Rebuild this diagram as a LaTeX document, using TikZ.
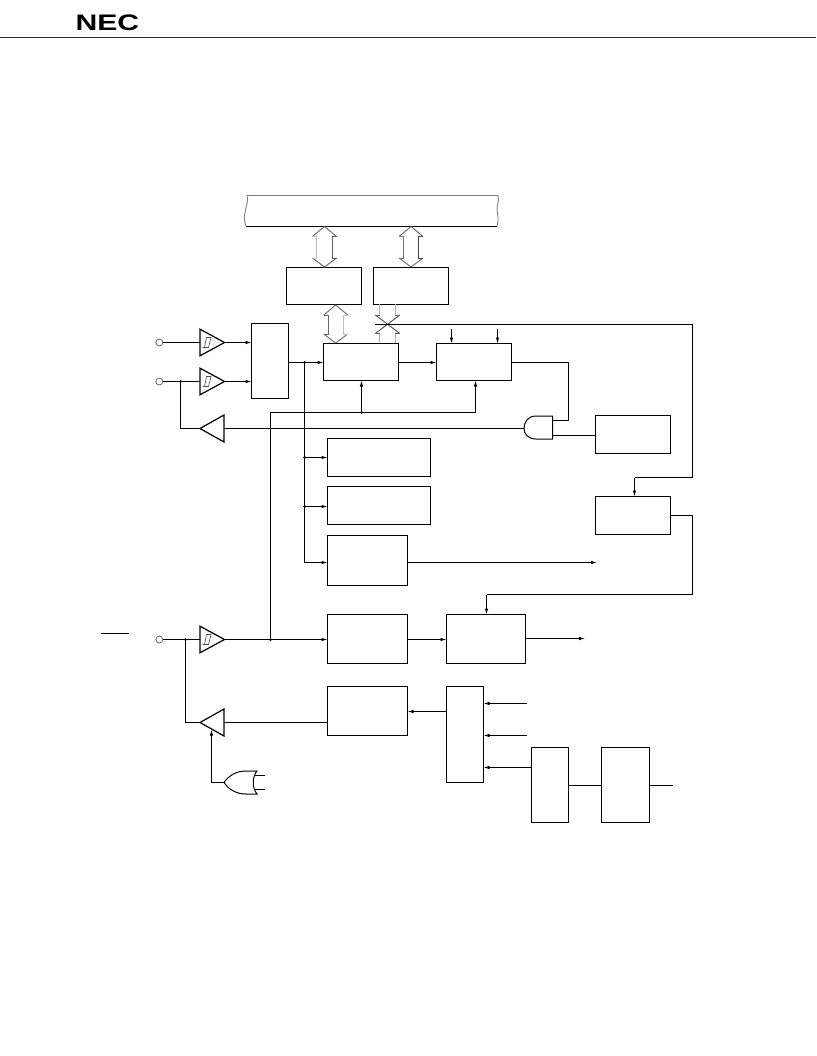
\documentclass[tikz,border=0pt]{standalone}
\usepackage{fontspec}
\setmainfont{Liberation Sans}
\usetikzlibrary{arrows.meta,calc}
\tikzset{
  line/.style={line width=1pt,black},
  arr/.style={line,-{Latex[length=6pt,width=3.6pt]}},
  box/.style={draw,line width=1pt,anchor=north west,inner sep=0pt,outer sep=0pt},
  pin/.style={circle,draw=black!60,line width=0.8pt,minimum size=7pt,inner sep=0pt,outer sep=0pt},
  dot/.style={circle,fill=black,inner sep=0pt,minimum size=3pt},
  tri/.style={line width=1.2pt,line join=miter},
  hyst/.style={draw=black!70,line width=0.6pt},
}
% box by corner pixels: name, x1, y1, x2, y2
\newcommand\bx[5]{\node[box,minimum width={(#4-#2)*1pt},minimum height={(#5-#3)*1pt}] (#1) at (#2+0.5,#3+0.5) {};}
% right-pointing buffer with hysteresis mark
\newcommand\bufr[3]{%
  \coordinate (#1in) at (#2,#3);\coordinate (#1out) at (#2+24.5,#3);
  \draw[tri] (#2,#3-13.3) -- (#2+24.5,#3) -- (#2,#3+13.3) -- cycle;
  \draw[hyst] (#2+2.5,#3+5) -- (#2+8.5,#3+5) -- (#2+11,#3-5) -- (#2+6.5,#3-5) -- (#2+4.5,#3+5);}
% left-pointing buffer
\newcommand\bufl[3]{%
  \coordinate (#1out) at (#2,#3);\coordinate (#1in) at (#2+24,#3);
  \draw[tri] (#2,#3) -- (#2+24,#3-13.5) -- (#2+24,#3+13.5) -- cycle;}
% hollow double arrow: top point, bottom point, half head, half shaft, left colour, right colour
\newcommand\dbl[6]{%
  \draw[line width=0.9pt,black!60] let \p1=(#1),\p2=(#2) in
    (\x1-#3pt,\y1-10pt) -- (\x1,\y1) -- (\x1+#3pt,\y1-10pt)
    (\x2-#3pt,\y2+9pt) -- (\x2,\y2) -- (\x2+#3pt,\y2+9pt);
  \draw[line width=0.9pt,#5] let \p1=(#1),\p2=(#2) in
    (\x1-#3pt,\y1-10pt) -- (\x1-#4pt,\y1-10pt) -- (\x1-#4pt,\y2+9pt) -- (\x1-#3pt,\y2+9pt);
  \draw[line width=0.9pt,#6] let \p1=(#1),\p2=(#2) in
    (\x1+#3pt,\y1-10pt) -- (\x1+#4pt,\y1-10pt) -- (\x1+#4pt,\y2+9pt) -- (\x1+#3pt,\y2+9pt);}
\begin{document}
\begin{tikzpicture}[x=1pt,y=-1pt]
\useasboundingbox (0,0) rectangle (816,1056);
% header
\node[inner sep=0pt,anchor=west] (logo) at (75.3,22.4) {\scalebox{1.34}[1]{\fontsize{22.5pt}{22.5pt}\selectfont\bfseries NEC}};
\coordinate (ruleL) at (0,37.5);\coordinate (ruleR) at (816,37.5);
\draw[line width=1pt,black!85] (ruleL) -- (ruleR);
% internal bus
\draw[line width=0.9pt,black!50] (246,226) .. controls (243,218) and (245,214) .. (245.5,210) .. controls (246,206) and (249,201) .. (247,195.5) -- (498,195.5) .. controls (499.5,201) and (497,205) .. (497,209) .. controls (497,214) and (499.5,219) .. (497,226);
\coordinate (busL) at (324.5,226.5);\coordinate (busR) at (411,226.5);
\draw[line width=1pt] (246,226.5) -- (497,226.5);
% blocks
\bx{regA}{286}{267}{361}{304}
\bx{regB}{373}{267}{448}{304}
\bx{mux}{251}{323}{288}{398}
\bx{sr}{323}{343}{398}{380}
\bx{outl}{436}{343}{511}{380}
\bx{ctl}{595}{415}{670}{453}
\bx{cnt}{595}{496}{670}{534}
\bx{dbox}{327}{438}{430}{476}
\bx{ebox}{327}{486}{430}{524}
\bx{fbox}{327}{535}{407}{585}
\bx{gbox}{327}{614}{407}{663}
\bx{hbox}{446}{614}{525}{663}
\bx{ibox}{327}{686}{407}{735}
\bx{jbox}{446}{686}{483}{782}
\bx{kbox}{531}{747}{568}{822}
\bx{lbox}{601}{747}{649}{822}
% hollow bus arrows
\coordinate (regAn) at (324.5,267);\coordinate (regBn) at (411,267);
\dbl{busL}{regAn}{12}{7.6}{black!25}{black!65}
\dbl{busR}{regBn}{12}{7.6}{black!55}{black!75}
\coordinate (a2t) at (335.7,305);\coordinate (a2b) at (335.7,343);
\dbl{a2t}{a2b}{12}{7.6}{black!60}{black!25}
% crossed bus
\coordinate (xc) at (387.6,324);
\coordinate (xa) at (375.4,315);\coordinate (xb) at (399.8,315);\coordinate (xd) at (375.4,333.5);\coordinate (xe) at (399.8,333.5);
\draw[line width=0.9pt,black!70] (xa) -- (xe) (xb) -- (xd);
\draw[line width=0.9pt,black!30] (379.8,304) -- (379.8,315) (395.2,304) -- (395.2,315) (379.8,333.5) -- (379.8,343) (395.2,333.5) -- (395.2,343);
\draw[line width=0.9pt,black!60] (xa) -- (379.8,315) (xb) -- (395.2,315) (xd) -- (379.8,333.5) (xe) -- (395.2,333.5);
% pins
\node[pin] (p1) at (159.3,342.5) {};
\node[pin] (p2) at (159.3,381.5) {};
\node[pin] (p3) at (159.3,639.5) {};
\coordinate (ovL) at (101,633.5);\coordinate (ovR) at (129,633.5);
\draw[line] (ovL) -- (ovR);
% buffers
\bufr{b1}{200}{342.5}
\bufr{b2}{200}{381.5}
\bufr{b3}{200}{639.5}
\bufl{b4}{200}{428.5}
\bufl{b5}{200}{722.5}
% AND gate
\draw[line width=1pt] (552.5,416) -- (536,416) .. controls (528,416) and (524,422) .. (524,428.5) .. controls (524,434) and (528,439) .. (536,439) -- (552.5,439) -- cycle;
\coordinate (andO) at (524,428.5);\coordinate (andA) at (552.5,420.5);\coordinate (andB) at (552.5,435.5);
% OR gate
\draw[line width=1pt] (224,782.5) .. controls (230,774) and (238,771) .. (246,771) -- (257,771) .. controls (252,777) and (252,788) .. (257,794) -- (246,794) .. controls (238,794) and (230,791) .. (224,782.5);
\coordinate (orO) at (224,782.5);
\coordinate (orA) at (254,775.5);\coordinate (orB) at (254,789.5);\coordinate (orAe) at (264.5,775.5);\coordinate (orBe) at (264.5,789.5);
\draw[line] (orA) -- (orAe) (orB) -- (orBe);
% junctions
\node[dot] (j1) at (180.5,381.5) {};
\node[dot] (j2) at (304.5,362.5) {};
\node[dot] (j3) at (304.5,457.5) {};
\node[dot] (j4) at (304.5,506.5) {};
\node[dot] (j5) at (270.5,639.5) {};
\node[dot] (j6) at (361.5,412.5) {};
\node[dot] (j7) at (185.5,639.5) {};
% connectors
\draw[line] (p1) -- (b1in);
\draw[arr] (b1out) -- (mux.west |- b1out);
\draw[line] (p2) -- (b2in);
\draw[arr] (b2out) -- (mux.west |- b2out);
\draw[line] (j1) |- (b4out);
\draw[line] (b4in) -- (andO);
\draw[arr] (mux.east |- j2) -- (sr.west |- j2);
\coordinate (j8) at (304.5,562.5);
\draw[line] (j2) -- (j8);
\draw[arr] (j3) -- (dbox.west |- j3);
\draw[arr] (j4) -- (ebox.west |- j4);
\draw[arr] (j8) -- (fbox.west |- j8);
\coordinate (fend) at (597,562.5);
\draw[arr] (fbox.east |- j8) -- (fend);
\draw[arr] (sr.east |- j2) -- (outl.west |- j2);
\coordinate (t1) at (451.5,329);\coordinate (t2) at (497.5,329);
\draw[arr] (t1) -- (outl.north -| t1);
\draw[arr] (t2) -- (outl.north -| t2);
\draw[line] (outl.east |- j2) -| (568.5,420.5) -- (andA);
\draw[line] (andB) -- (ctl.west |- andB);
% feedback from buffer 3
\coordinate (fbk) at (270.5,412.5);\coordinate (fbkR) at (475.5,412.5);
\draw[line] (j5) -- (fbk) -- (fbkR);
\draw[arr] (j6) -- (sr.south -| j6);
\draw[arr] (fbkR) -- (outl.south -| fbkR);
% long control line
\coordinate (ctlc) at (692.5,324.5);\coordinate (ctld) at (692.5,477.5);\coordinate (ctle) at (634.5,477.5);
\draw[line] (374.5,324.5) -- (ctlc) -- (ctld) -- (ctle);
\draw[arr] (ctle) -- (cnt.north -| ctle);
\coordinate (c1) at (692.5,515.5);\coordinate (c2) at (692.5,594.5);\coordinate (c3) at (486.5,594.5);
\draw[line] (cnt.east |- c1) -- (c1) -- (c2) -- (c3);
\draw[arr] (c3) -- (hbox.north -| c3);
% lower path
\draw[line] (p3) -- (b3in);
\draw[arr] (b3out) -- (gbox.west |- b3out);
\draw[arr] (gbox.east |- b3out) -- (hbox.west |- b3out);
\coordinate (hend) at (585,638.5);
\draw[arr] (hbox.east |- hend) -- (hend);
\draw[line] (j7) |- (b5out);
\draw[line] (ibox.west |- b5in) -- (b5in);
\coordinate (b5c) at (211.5,729.5);
\draw[arr] (orO) -| (b5c);
% right lower
\coordinate (m1) at (446,711.5);
\draw[arr] (m1) -- (ibox.east |- m1);
\coordinate (i1) at (527,703.5);\coordinate (i2) at (527,735.5);\coordinate (i3) at (531,767.5);
\draw[arr] (i1) -- (jbox.east |- i1);
\draw[arr] (i2) -- (jbox.east |- i2);
\draw[arr] (i3) -- (jbox.east |- i3);
\coordinate (k1) at (568,785.5);\coordinate (k2) at (673,785.5);
\draw[line] (k1) -- (lbox.west |- k1);
\draw[line] (lbox.east |- k1) -- (k2);
\end{tikzpicture}
\end{document}
